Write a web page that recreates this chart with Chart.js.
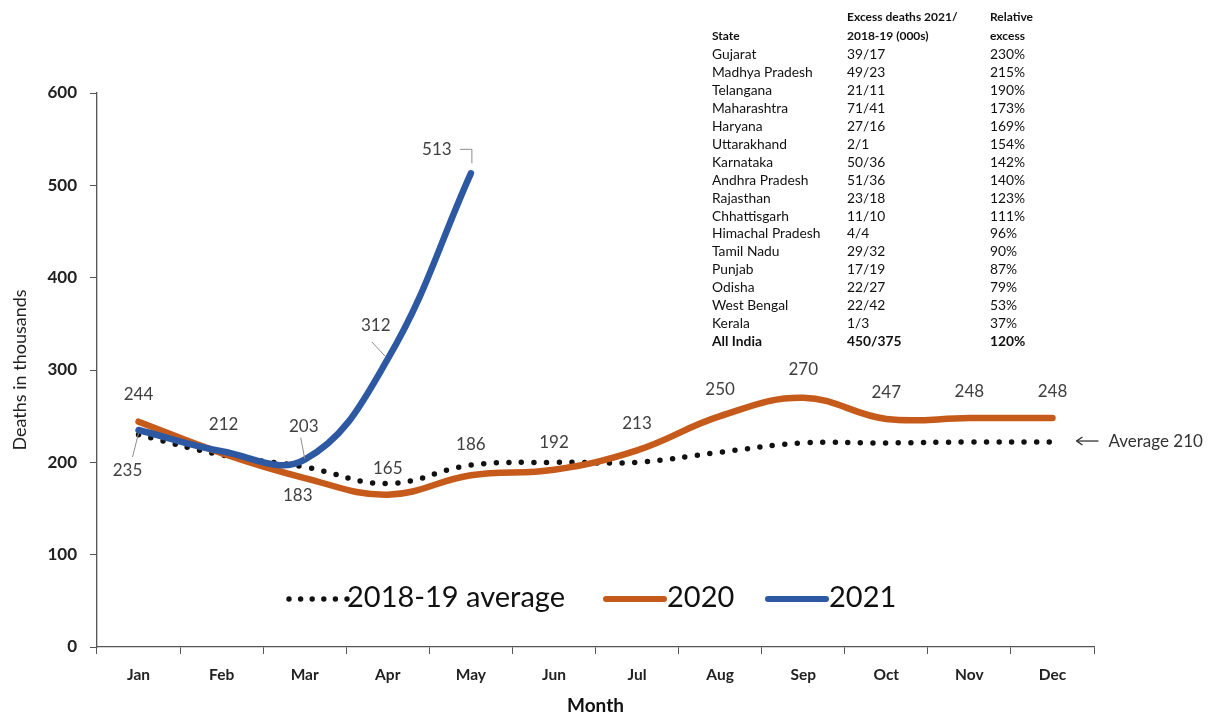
<!DOCTYPE html>
<html>
<head>
<meta charset="utf-8">
<script src="https://cdn.jsdelivr.net/npm/chart.js@4.4.1/dist/chart.umd.min.js"></script>
<style>
  html, body { margin: 0; padding: 0; background: #ffffff; }
  #wrap { width: 1224px; height: 717px; position: relative; }
  canvas { display: block; }
</style>
</head>
<body>
<div id="wrap"><canvas id="c" width="1224" height="717"></canvas></div>
<script>
// ---------------- DATA ----------------
const months = ["Jan","Feb","Mar","Apr","May","Jun","Jul","Aug","Sep","Oct","Nov","Dec"];
const avg201819 = [230, 208, 195, 177, 197, 200, 200, 211, 221, 221, 222, 222];
const deaths2020 = [244, 210, 183, 165, 186, 192, 213, 250, 270, 247, 248, 248];
const deaths2021 = [235, 212, 203, 312, 513, null, null, null, null, null, null, null];
const yTicks = [0, 100, 200, 300, 400, 500, 600];
const averageNote = "Average 210";

const tableHeader1 = ["", "Excess deaths 2021/", "Relative"];
const tableHeader2 = ["State", "2018-19 (000s)", "excess"];
const states = ["Gujarat","Madhya Pradesh","Telangana","Maharashtra","Haryana","Uttarakhand","Karnataka","Andhra Pradesh","Rajasthan","Chhattisgarh","Himachal Pradesh","Tamil Nadu","Punjab","Odisha","West Bengal","Kerala","All India"];
const excessDeaths = ["39/17","49/23","21/11","71/41","27/16","2/1","50/36","51/36","23/18","11/10","4/4","29/32","17/19","22/27","22/42","1/3","450/375"];
const relativeExcess = ["230%","215%","190%","173%","169%","154%","142%","140%","123%","111%","96%","90%","87%","79%","53%","37%","120%"];

// ---------------- STYLE ----------------
const FONT = "Lato, 'Open Sans', sans-serif";
const ORANGE = "#C55A1A";
const BLUE = "#2D58A2";
const LABEL_COLOR = "#404040";

// label offsets per series (dx, dy from point), and leader lines
const labelStyle2020 = [[0,-27],[0,-27],[-7,17],[0,-26],[0,-31],[0,-27],[0,-27],[0,-27],[0,-28],[0,-26],[0,-26],[0,-26]];
const showLabel2020 = [true,false,true,true,true,true,true,true,true,true,true,true];
const labelStyle2021 = [[-11,40],[2,-27],[-1,-33],[-12,-33],[-34,-24]];
const leader2021 = [
  [[ -6, 27 ], [ 0, 3 ]],
  null,
  [[ -4, -22 ], [ 0, -1 ]],
  [[ -16, -17 ], [ -2, -2 ]],
  "elbow"
];

const overlay = {
  id: 'overlay',
  afterDatasetsDraw(chart) {
    const ctx = chart.ctx;
    const x = chart.scales.x, y = chart.scales.y;
    ctx.save();
    ctx.font = "17px " + FONT;
    ctx.fillStyle = LABEL_COLOR;
    ctx.textAlign = "center";
    ctx.textBaseline = "middle";
    deaths2020.forEach((v, i) => {
      if (!showLabel2020[i] || v == null) return;
      const px = x.getPixelForValue(i), py = y.getPixelForValue(v);
      ctx.fillText(String(v), px + labelStyle2020[i][0], py + labelStyle2020[i][1]);
    });
    ctx.strokeStyle = "#8c8c8c";
    ctx.lineWidth = 1;
    deaths2021.forEach((v, i) => {
      if (v == null) return;
      const px = x.getPixelForValue(i), py = y.getPixelForValue(v);
      const lx = px + labelStyle2021[i][0], ly = py + labelStyle2021[i][1];
      ctx.fillText(String(v), lx, ly);
      const L = leader2021[i];
      if (L === "elbow") {
        ctx.beginPath();
        ctx.moveTo(lx + 23, ly);
        ctx.lineTo(px + 1, ly);
        ctx.lineTo(px + 1, py - 10);
        ctx.stroke();
      } else if (L) {
        ctx.beginPath();
        ctx.moveTo(px + L[0][0], py + L[0][1]);
        ctx.lineTo(px + L[1][0], py + L[1][1]);
        ctx.stroke();
      }
    });

    // Average annotation
    const lastX = x.getPixelForValue(11), lastY = y.getPixelForValue(avg201819[11]);
    ctx.strokeStyle = "#222"; ctx.fillStyle = "#222"; ctx.lineWidth = 1.2;
    const ay = lastY - 1;
    ctx.beginPath(); ctx.moveTo(lastX + 46, ay); ctx.lineTo(lastX + 24, ay); ctx.stroke();
    ctx.beginPath(); ctx.moveTo(lastX + 24, ay); ctx.lineTo(lastX + 30, ay - 4);
    ctx.moveTo(lastX + 24, ay); ctx.lineTo(lastX + 30, ay + 4); ctx.stroke();
    ctx.font = "17px " + FONT; ctx.fillStyle = "#333"; ctx.textAlign = "left";
    ctx.fillText(averageNote, lastX + 56, ay);

    // Legend
    const legY = 598;
    ctx.font = "29px " + FONT; ctx.fillStyle = "#111"; ctx.textAlign = "left";
    for (let k = 0; k < 6; k++) {
      ctx.beginPath(); ctx.arc(289 + k * 11.6, legY + 1, 2.7, 0, Math.PI * 2); ctx.fill();
    }
    ctx.fillText("2018-19 average", 347, legY);
    ctx.lineCap = "round"; ctx.lineWidth = 6;
    ctx.strokeStyle = ORANGE;
    ctx.beginPath(); ctx.moveTo(606, legY + 1); ctx.lineTo(664, legY + 1); ctx.stroke();
    ctx.fillText("2020", 667, legY);
    ctx.strokeStyle = BLUE;
    ctx.beginPath(); ctx.moveTo(768, legY + 1); ctx.lineTo(826, legY + 1); ctx.stroke();
    ctx.fillText("2021", 829, legY);

    // Table
    const cols = [712, 847, 990];
    ctx.textBaseline = "middle";
    ctx.fillStyle = "#111";
    ctx.font = "bold 12px " + FONT;
    tableHeader1.forEach((t, c) => ctx.fillText(t, cols[c], 17));
    tableHeader2.forEach((t, c) => ctx.fillText(t, cols[c], 36));
    const rowH = 17.9;
    states.forEach((s, r) => {
      const yy = 55 + r * rowH;
      const bold = (r === states.length - 1);
      ctx.font = (bold ? "bold " : "") + "13.8px " + FONT;
      ctx.fillText(s, cols[0], yy);
      ctx.fillText(excessDeaths[r], cols[1], yy);
      ctx.fillText(relativeExcess[r], cols[2], yy);
    });
    ctx.restore();
  }
};

const ctx = document.getElementById('c').getContext('2d');
new Chart(ctx, {
  type: 'line',
  data: {
    labels: months,
    datasets: [
      {
        label: "2018-19 average",
        data: avg201819,
        borderColor: "#111",
        borderWidth: 5.5,
        borderDash: [0, 12.6],
        borderCapStyle: 'round',
        pointRadius: 0,
        tension: 0.4,
        fill: false,
        order: 2
      },
      {
        label: "2020",
        data: deaths2020,
        borderColor: ORANGE,
        borderWidth: 6.5,
        borderCapStyle: 'round',
        pointRadius: 0,
        tension: 0.4,
        fill: false,
        order: 1
      },
      {
        label: "2021",
        data: deaths2021,
        borderColor: BLUE,
        borderWidth: 6.5,
        borderCapStyle: 'round',
        pointRadius: 0,
        tension: 0.4,
        fill: false,
        spanGaps: false,
        order: 0
      }
    ]
  },
  options: {
    responsive: false,
    animation: false,
    devicePixelRatio: 1,
    layout: { padding: { top: 93, right: 130, left: 0, bottom: 0 } },
    plugins: { legend: { display: false }, tooltip: { enabled: false } },
    scales: {
      x: {
        type: 'category',
        offset: true,
        grid: { display: true, drawOnChartArea: false, drawTicks: true, tickLength: 7, color: "#555", offset: true },
        border: { display: true, color: "#555", width: 1.3 },
        ticks: { color: "#222", font: { family: FONT, size: 15.5, weight: 'bold' }, padding: 12, maxRotation: 0 },
        title: { display: true, text: "Month", color: "#111", font: { family: FONT, size: 19, weight: 'bold' }, padding: { top: 4, bottom: 0 } },
        afterFit(s) { s.height = 70; }
      },
      y: {
        min: 0, max: 600,
        afterBuildTicks(s) { s.ticks = yTicks.map(v => ({ value: v })); },
        grid: { display: true, drawOnChartArea: false, drawTicks: true, tickLength: 7, color: "#555" },
        border: { display: true, color: "#555", width: 1.3 },
        ticks: { color: "#222", font: { family: FONT, size: 17, weight: 'bold' }, padding: 13 },
        title: { display: true, text: "Deaths in thousands", color: "#222", font: { family: FONT, size: 18 }, padding: { top: 9, bottom: 0 } },
        afterFit(s) { s.width = 97; }
      }
    }
  },
  plugins: [overlay]
});
</script>
</body>
</html>
